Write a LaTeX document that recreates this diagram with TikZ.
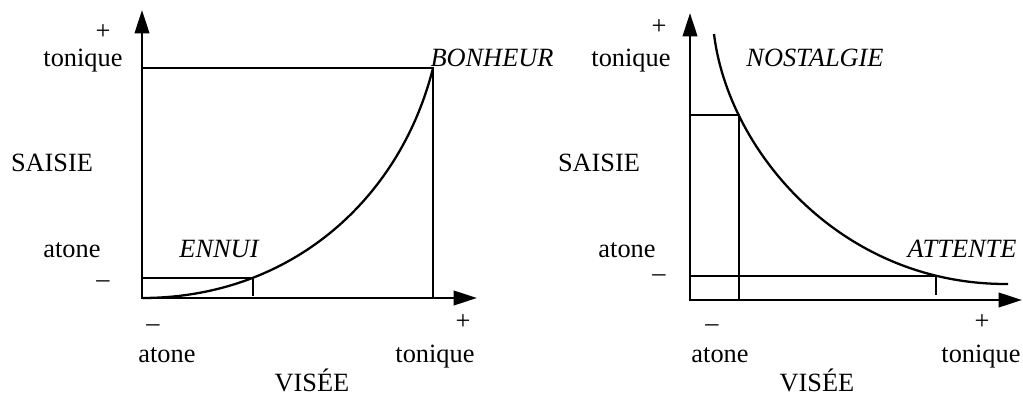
\documentclass[tikz,border=0pt]{standalone}
\usepackage{fontspec}
\setmainfont{Liberation Serif}
\usetikzlibrary{arrows.meta}

\tikzset{
  axes/.style={line width=1.5pt, line join=miter,
    {Triangle[length=0.47cm, width=0.29cm]}-{Triangle[length=0.47cm, width=0.29cm]}},
  guide/.style={line width=1pt},
  courbe/.style={line width=1.3pt},
  lab/.style={anchor=base, inner sep=0pt, font=\fontsize{15pt}{18pt}\selectfont},
  etat/.style={lab, font=\fontsize{15pt}{18pt}\selectfont\itshape},
}

\begin{document}
\begin{tikzpicture}[x=0.02cm, y=-0.02cm]
    \useasboundingbox (0,0) rectangle (1023,394);
    % ---- left diagram: axes ----
    \coordinate (O1) at (142,298);
    \coordinate (Y1) at (142,10);
    \coordinate (X1) at (477,298);
    \draw[axes] (Y1) -- (O1) -- (X1);
    % ---- left diagram: rising curve ----
    \draw[courbe] (O1) .. controls (290,298) and (400,200) .. (433,68)
        coordinate[pos=0.27] (E1) coordinate (B1);
    % ---- left diagram: guide lines ----
    \draw[guide] (O1 |- B1) -- (B1) -- (B1 |- O1);
    \draw[guide] (O1 |- E1) -- (E1) -- ++(0,18);
    % ---- left diagram: labels ----
    \node[lab] (lplus)    at (103,40)  {+};
    \node[lab] (ltonique) at (83,67)   {tonique};
    \node[lab] (lsaisie)  at (52,172)  {SAISIE};
    \node[lab] (latone)   at (72,258)  {atone};
    \node[lab] (lmoins)   at (103,288) {–};
    \node[lab] (bmoins)   at (153,332) {–};
    \node[lab] (batone)   at (167,362) {atone};
    \node[lab] (bplus)    at (463,330) {+};
    \node[lab] (btonique) at (435,362) {tonique};
    \node[lab] (bvisee)   at (312,391) {VISÉE};
    \node[etat] (bonheur) at (492,67)  {BONHEUR};
    \node[etat] (ennui)   at (219,258) {ENNUI};
    % ---- right diagram: axes ----
    \coordinate (O2) at (690,300);
    \coordinate (Y2) at (690,13);
    \coordinate (X2) at (1022,300);
    \draw[axes] (Y2) -- (O2) -- (X2);
    % ---- right diagram: falling curve ----
    \draw[courbe] (714,34) .. controls (728,150) and (840,285) .. (1008,284)
        coordinate[pos=0.23] (N2) coordinate[pos=0.85] (A2);
    % ---- right diagram: guide lines ----
    \draw[guide] (O2 |- N2) -- (N2) -- (N2 |- O2);
    \draw[guide] (O2 |- A2) -- (A2) -- ++(0,19);
    % ---- right diagram: labels ----
    \node[lab] (rplus)     at (659,35)  {+};
    \node[lab] (rtonique)  at (631,67)  {tonique};
    \node[lab] (rsaisie)   at (599,172) {SAISIE};
    \node[lab] (ratone)    at (627,258) {atone};
    \node[lab] (rmoins)    at (659,282) {–};
    \node[lab] (rbmoins)   at (712,332) {–};
    \node[lab] (rbatone)   at (720,362) {atone};
    \node[lab] (rbplus)    at (982,330) {+};
    \node[lab] (rbtonique) at (981,362) {tonique};
    \node[lab] (rbvisee)   at (817,391) {VISÉE};
    \node[etat] (nostalgie) at (815,67) {NOSTALGIE};
    \node[etat] (attente)   at (962,258) {ATTENTE};
\end{tikzpicture}
\end{document}
